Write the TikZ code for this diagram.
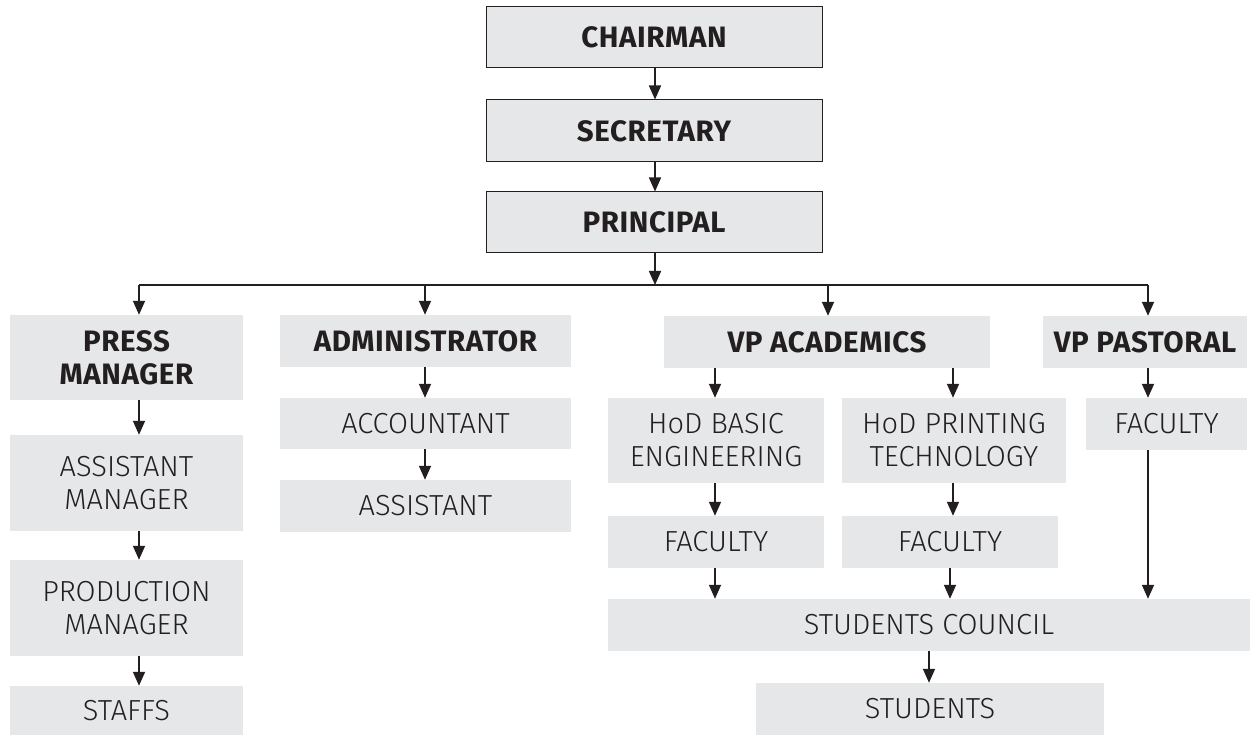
\documentclass[tikz,border=0pt]{standalone}
\usepackage{fontspec}
\setmainfont{Fira Sans Light}[BoldFont={Fira Sans Bold}, BoldFeatures={LetterSpace=2}]
\usetikzlibrary{arrows.meta}
\definecolor{boxfill}{HTML}{E6E7E8}
\definecolor{ink}{HTML}{231F20}
\tikzset{
  box/.style={fill=boxfill, inner sep=0pt, align=center, text=ink,
    font=\fontsize{29}{33}\selectfont},
  bbox/.style={box, font=\fontsize{29.5}{33}\selectfont\bfseries},
  fbox/.style={bbox, draw=ink, line width=1pt},
  arr/.style={draw=ink, line width=1.7pt, -{Triangle[length=14pt,width=12pt]}},
  ln/.style={draw=ink, line width=1.7pt}
}
\newcommand{\bx}[7]{\node[#6, minimum width={#4-#2}, minimum height={#5-#3}] (#1) at ({(#2+#4)/2},{(#3+#5)/2}) {#7};}
\begin{document}
\begin{tikzpicture}[x=1pt,y=-1pt]
\useasboundingbox (0,0) rectangle (1250,735);
\bx{chair}{486}{7}{822}{68}{fbox}{CHAIRMAN}
\bx{sec}{486}{100}{822}{162}{fbox}{SECRETARY}
\bx{prin}{486}{192}{822}{253}{fbox}{PRINCIPAL}
\bx{press}{10}{315}{243}{400}{bbox}{PRESS\\MANAGER}
\bx{am}{10}{435}{243}{531}{box}{ASSISTANT\\MANAGER}
\bx{pm}{10}{560}{243}{656}{box}{PRODUCTION\\MANAGER}
\bx{staffs}{10}{686}{243}{735}{box}{STAFFS}
\bx{admin}{280}{315}{571}{367}{bbox}{ADMINISTRATOR}
\bx{acc}{280}{398}{571}{449}{box}{ACCOUNTANT}
\bx{asst}{280}{480}{571}{532}{box}{ASSISTANT}
\bx{vpa}{664}{316}{990}{368}{bbox}{VP ACADEMICS}
\bx{hodb}{608}{398}{824}{483}{box}{HoD BASIC\\ENGINEERING}
\bx{hodp}{842}{398}{1066}{483}{box}{HoD PRINTING\\TECHNOLOGY}
\bx{facb}{608}{516}{824}{568}{box}{FACULTY}
\bx{facp}{842}{516}{1058}{568}{box}{FACULTY}
\bx{sc}{608}{599}{1250}{651}{box}{STUDENTS COUNCIL}
\bx{stu}{756}{683}{1104}{735}{box}{STUDENTS}
\bx{vpp}{1043}{316}{1247}{368}{bbox}{VP PASTORAL}
\bx{facv}{1086}{398}{1247}{450}{box}{FACULTY}
% column x positions
\coordinate (cx0) at (655,0);
\coordinate (bus) at (0,285);
\coordinate (px) at (139,0);
\coordinate (ax) at (425,0);
\coordinate (vx) at (828,0);
\coordinate (rx) at (1148,0);
\coordinate (bx1) at (715,0);
\coordinate (bx2) at (953,0);
\coordinate (bx3) at (950,0);
\coordinate (sx) at (929,0);
% top chain
\draw[arr] (chair.south -| cx0) -- (sec.north -| cx0);
\draw[arr] (sec.south -| cx0) -- (prin.north -| cx0);
\draw[arr] (prin.south -| cx0) -- (bus -| cx0);
\draw[ln] (bus -| px) -- (bus -| rx);
\draw[arr] (bus -| px) -- (press.north -| px);
\draw[arr] (bus -| ax) -- (admin.north -| ax);
\draw[arr] (bus -| vx) -- (vpa.north -| vx);
\draw[arr] (bus -| rx) -- (vpp.north -| rx);
% press column
\draw[arr] (press.south -| px) -- (am.north -| px);
\draw[arr] (am.south -| px) -- (pm.north -| px);
\draw[arr] (pm.south -| px) -- (staffs.north -| px);
% admin column
\draw[arr] (admin.south -| ax) -- (acc.north -| ax);
\draw[arr] (acc.south -| ax) -- (asst.north -| ax);
% academics
\draw[arr] (vpa.south -| bx1) -- (hodb.north -| bx1);
\draw[arr] (vpa.south -| bx2) -- (hodp.north -| bx2);
\draw[arr] (hodb.south -| bx1) -- (facb.north -| bx1);
\draw[arr] (hodp.south -| bx2) -- (facp.north -| bx2);
\draw[arr] (facb.south -| bx1) -- (sc.north -| bx1);
\draw[arr] (facp.south -| bx3) -- (sc.north -| bx3);
% pastoral
\draw[arr] (vpp.south -| rx) -- (facv.north -| rx);
\draw[arr] (facv.south -| rx) -- (sc.north -| rx);
% students
\draw[arr] (sc.south -| sx) -- (stu.north -| sx);
\end{tikzpicture}
\end{document}
